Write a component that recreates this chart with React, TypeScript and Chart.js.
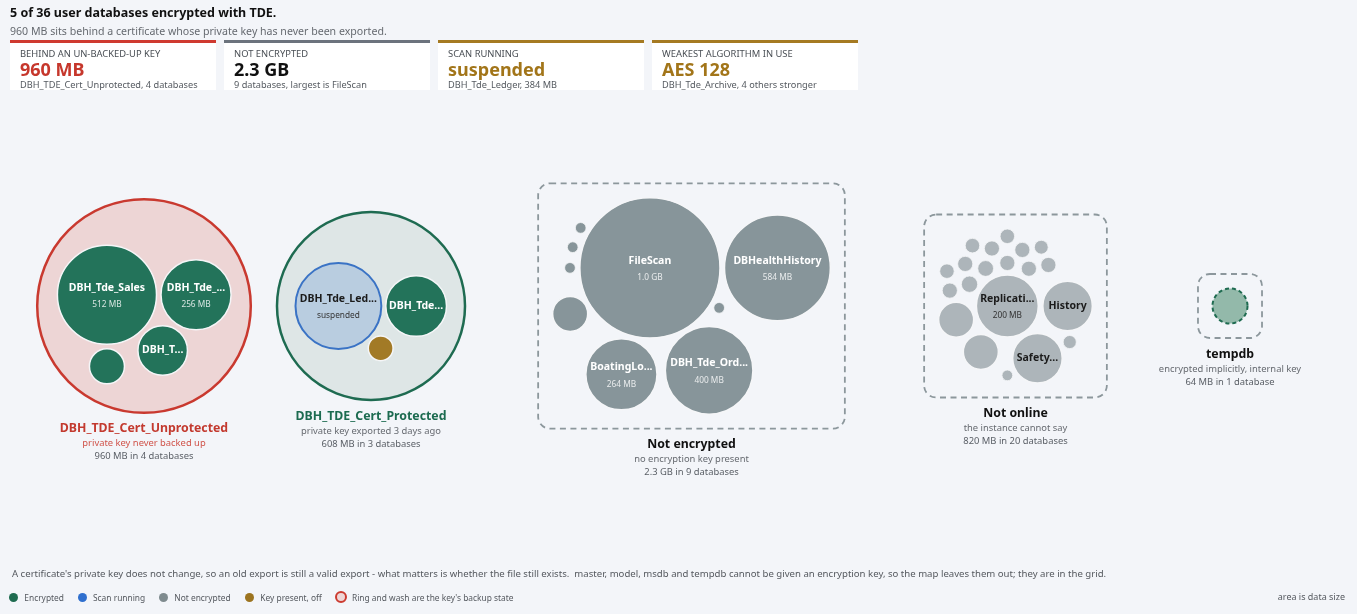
import React, { useEffect, useRef } from "react";
import { Chart, registerables } from "chart.js";

Chart.register(...registerables);

const W = 1357;
const H = 614;
const FONT = '"Noto Sans", "Open Sans", sans-serif';

// ---------------- data ----------------
const titleText = "5 of 36 user databases encrypted with TDE.";
const subtitleText = "960 MB sits behind a certificate whose private key has never been exported.";

const kpiLabels = ["BEHIND AN UN-BACKED-UP KEY", "NOT ENCRYPTED", "SCAN RUNNING", "WEAKEST ALGORITHM IN USE"];
const kpiValues = ["960 MB", "2.3 GB", "suspended", "AES 128"];
const kpiNotes = [
  "DBH_TDE_Cert_Unprotected, 4 databases",
  "9 databases, largest is FileScan",
  "DBH_Tde_Ledger, 384 MB",
  "DBH_Tde_Archive, 4 others stronger",
];

const groupTitles = ["DBH_TDE_Cert_Unprotected", "DBH_TDE_Cert_Protected", "Not encrypted", "Not online", "tempdb"];
const groupNotes = [
  "private key never backed up",
  "private key exported 3 days ago",
  "no encryption key present",
  "the instance cannot say",
  "encrypted implicitly, internal key",
];
const groupTotals = [
  "960 MB in 4 databases",
  "608 MB in 3 databases",
  "2.3 GB in 9 databases",
  "820 MB in 20 databases",
  "64 MB in 1 database",
];

const unprotectedNames = ["DBH_Tde_Sales", "DBH_Tde_Archive", "DBH_Tde_Hr", "DBH_Tde_Audit"];
const unprotectedMb = [512, 256, 128, 64];
const unprotectedState = ["enc", "enc", "enc", "enc"];

const protectedNames = ["DBH_Tde_Ledger", "DBH_Tde_Payroll", "DBH_Tde_Staging"];
const protectedMb = [384, 192, 32];
const protectedState = ["scan", "enc", "off"];
const protectedScan = ["suspended", "", ""];

const plainNames = ["FileScan", "DBHealthHistory", "DBH_Tde_Orders", "BoatingLogbook", "Scratch", "DBA_Util", "Jobs_Log", "Sandbox", "TestDb"];
const plainMb = [1024, 584, 400, 264, 64, 6, 6, 6, 6];

const offlineNames = [
  "ReplicationTest", "History", "SafetyReports", "Warehouse_Old", "Intranet",
  "CRM_Dev", "CRM_QA", "Billing_2019", "Billing_2020", "HR_Archive",
  "Survey", "Kiosk", "Wiki", "Tickets", "Assets",
  "Fleet", "Events", "Maps", "Notes", "Scratch2",
];
const offlineMb = [200, 128, 128, 64, 64, 14, 13, 12, 12, 12, 12, 12, 12, 12, 11, 11, 11, 10, 9, 6];

const tempdbNames = ["tempdb"];
const tempdbMb = [64];

const legendLabels = ["Encrypted", "Scan running", "Not encrypted", "Key present, off", "Ring and wash are the key's backup state"];
const footnoteText =
  "A certificate's private key does not change, so an old export is still a valid export - what matters is whether the file still exists.\u00a0 master, model, msdb and tempdb cannot be given an encryption key, so the map leaves them out; they are in the grid.";
const scaleNote = "area is data size";

// ---------------- styling / layout constants ----------------
const K = 2.19; // px of radius per sqrt(MB)
const GAP = 4.5;
const STEP = 15;
const RING_PAD = 18.5;
const BOX_PAD = 14.5;
const GROUP_CX = [144, 371, 691.5, 1015.5, 1230];
const CY = 306;
const LEGEND_X = [13.3, 82, 163.3, 249.3, 341];

const FILL: Record<string, string> = {
  enc: "#23735a",
  scan: "#b9cde0",
  off: "#a27a26",
  plain: "#87959a",
  offline: "#adb5ba",
  temp: "#93b9aa",
};
const RING_FILL = ["#edd5d5", "#dee6e6"];
const RING_LINE = ["#c9392f", "#1e6b51"];
const TITLE_COLOR = ["#c33a2f", "#1c6b50", "#111111", "#111111", "#111111"];
const NOTE_COLOR = ["#d0534a", "#666a70", "#666a70", "#666a70", "#666a70"];
const KPI_BAR = ["#cf3a30", "#6c737d", "#a57a22", "#a57a22"];
const KPI_VALUE = ["#c6372c", "#111111", "#a27519", "#a27519"];
const LEGEND_DOT = ["#1e6b50", "#2f6fce", "#7f8b8f", "#9c7420", "#efd6d6"];

const groups = [
  { names: unprotectedNames, mb: unprotectedMb, states: unprotectedState, notes: [] as string[], frame: "ring" },
  { names: protectedNames, mb: protectedMb, states: protectedState, notes: protectedScan, frame: "ring" },
  { names: plainNames, mb: plainMb, states: plainMb.map(() => "plain"), notes: [] as string[], frame: "box" },
  { names: offlineNames, mb: offlineMb, states: offlineMb.map(() => "offline"), notes: [] as string[], frame: "box" },
  { names: tempdbNames, mb: tempdbMb, states: ["temp"], notes: [] as string[], frame: "box" },
];

// ---------------- layout helpers ----------------
type C = { x: number; y: number; r: number };

function packAround(radii: number[]): C[] {
  const out: C[] = [];
  radii.forEach((r, i) => {
    if (i === 0) {
      out.push({ x: 0, y: 0, r });
      return;
    }
    const c0 = out[0];
    for (let d = c0.r + r + GAP; d < 3000; d += 1.5) {
      for (let a = 0; a < 360; a += STEP) {
        const t = (a * Math.PI) / 180;
        const x = d * Math.cos(t);
        const y = d * Math.sin(t);
        if (out.every((o) => Math.hypot(o.x - x, o.y - y) >= o.r + r + GAP - 1e-6)) {
          out.push({ x, y, r });
          return;
        }
      }
    }
  });
  return out;
}

function basis2(a: C, b: C): C {
  const x21 = b.x - a.x, y21 = b.y - a.y, r21 = b.r - a.r;
  const l = Math.sqrt(x21 * x21 + y21 * y21);
  return { x: (a.x + b.x + (x21 / l) * r21) / 2, y: (a.y + b.y + (y21 / l) * r21) / 2, r: (l + a.r + b.r) / 2 };
}

function basis3(a: C, b: C, c: C): C {
  const x1 = a.x, y1 = a.y, r1 = a.r;
  const x2 = b.x, y2 = b.y, r2 = b.r;
  const x3 = c.x, y3 = c.y, r3 = c.r;
  const a2 = x1 - x2, a3 = x1 - x3, b2 = y1 - y2, b3 = y1 - y3;
  const c2 = r2 - r1, c3 = r3 - r1;
  const d1 = x1 * x1 + y1 * y1 - r1 * r1;
  const d2 = d1 - x2 * x2 - y2 * y2 + r2 * r2;
  const d3 = d1 - x3 * x3 - y3 * y3 + r3 * r3;
  const ab = a3 * b2 - a2 * b3;
  const xa = (b2 * d3 - b3 * d2) / (ab * 2) - x1;
  const xb = (b3 * c2 - b2 * c3) / ab;
  const ya = (a3 * d2 - a2 * d3) / (ab * 2) - y1;
  const yb = (a2 * c3 - a3 * c2) / ab;
  const A = xb * xb + yb * yb - 1;
  const B = 2 * (r1 + xa * xb + ya * yb);
  const Cc = xa * xa + ya * ya - r1 * r1;
  const r = -(Math.abs(A) > 1e-6 ? (B + Math.sqrt(B * B - 4 * A * Cc)) / (2 * A) : Cc / B);
  return { x: x1 + xa + xb * r, y: y1 + ya + yb * r, r };
}

function enclose(cs: C[]): C {
  let best: C | null = null;
  const ok = (e: C) =>
    e && isFinite(e.r) && isFinite(e.x) && isFinite(e.y) && e.r > 0 &&
    cs.every((c) => Math.hypot(c.x - e.x, c.y - e.y) + c.r <= e.r + 1e-3);
  const consider = (e: C) => {
    if (ok(e) && (!best || e.r < best.r)) best = e;
  };
  for (let i = 0; i < cs.length; i++) consider({ ...cs[i] });
  for (let i = 0; i < cs.length; i++)
    for (let j = i + 1; j < cs.length; j++) consider(basis2(cs[i], cs[j]));
  for (let i = 0; i < cs.length; i++)
    for (let j = i + 1; j < cs.length; j++)
      for (let k = j + 1; k < cs.length; k++) consider(basis3(cs[i], cs[j], cs[k]));
  return best as unknown as C;
}

function buildLayout() {
  const bubbles: any[] = [];
  const frames: any[] = [];
  groups.forEach((g, gi) => {
    const radii = g.mb.map((v) => K * Math.sqrt(v));
    const pts = packAround(radii);
    let ox = 0, oy = 0;
    if (g.frame === "ring") {
      const e = enclose(pts);
      ox = GROUP_CX[gi] - e.x;
      oy = CY - e.y;
      const R = e.r + RING_PAD;
      frames.push({ kind: "ring", gi, x: GROUP_CX[gi], y: CY, r: R, bottom: CY + R });
    } else {
      const x0 = Math.min(...pts.map((p) => p.x - p.r));
      const x1 = Math.max(...pts.map((p) => p.x + p.r));
      const y0 = Math.min(...pts.map((p) => p.y - p.r));
      const y1 = Math.max(...pts.map((p) => p.y + p.r));
      ox = GROUP_CX[gi] - (x0 + x1) / 2;
      oy = CY - (y0 + y1) / 2;
      const hw = (x1 - x0) / 2 + BOX_PAD;
      const hh = (y1 - y0) / 2 + BOX_PAD;
      frames.push({ kind: "box", gi, x0: GROUP_CX[gi] - hw, x1: GROUP_CX[gi] + hw, y0: CY - hh, y1: CY + hh, bottom: CY + hh });
    }
    pts.forEach((p, i) =>
      bubbles.push({ x: p.x + ox, y: p.y + oy, r: p.r, state: g.states[i], name: g.names[i], mb: g.mb[i], note: g.notes[i] || "", gi })
    );
  });
  return { bubbles, frames };
}

function fmtMb(mb: number) {
  return mb >= 1000 ? (mb / 1024).toFixed(1) + " GB" : mb + " MB";
}

function fitText(ctx: CanvasRenderingContext2D, s: string, max: number) {
  if (ctx.measureText(s).width <= max) return s;
  let t = s;
  while (t.length > 1 && ctx.measureText(t + "...").width > max) t = t.slice(0, -1);
  return t + "...";
}

function roundRectPath(ctx: CanvasRenderingContext2D, x0: number, y0: number, x1: number, y1: number, rad: number) {
  ctx.beginPath();
  ctx.moveTo(x0 + rad, y0);
  ctx.arcTo(x1, y0, x1, y1, rad);
  ctx.arcTo(x1, y1, x0, y1, rad);
  ctx.arcTo(x0, y1, x0, y0, rad);
  ctx.arcTo(x0, y0, x1, y0, rad);
  ctx.closePath();
}

export default function App() {
  const canvasRef = useRef<HTMLCanvasElement | null>(null);

  useEffect(() => {
    const canvas = canvasRef.current;
    if (!canvas) return;
    const { bubbles, frames } = buildLayout();
    const mainB = bubbles.filter((b) => b.state !== "temp");
    const tempB = bubbles.filter((b) => b.state === "temp");
    const ringF = frames.filter((f) => f.kind === "ring");

    const dashPlugin = {
      id: "dashBorders",
      beforeDatasetDraw(chart: any, args: any) {
        const ds = chart.data.datasets[args.index];
        if (ds.dashed) chart.ctx.setLineDash(ds.dashed);
      },
      afterDatasetDraw(chart: any) {
        chart.ctx.setLineDash([]);
      },
    };

    const framePlugin = {
      id: "frames",
      beforeDatasetsDraw(chart: any) {
        const ctx = chart.ctx;
        const xs = chart.scales.x, ys = chart.scales.y;
        ctx.save();
        ctx.setLineDash([6, 4.5]);
        ctx.lineWidth = 1.8;
        ctx.strokeStyle = "#8c979c";
        frames.filter((f) => f.kind === "box").forEach((f) => {
          roundRectPath(ctx, xs.getPixelForValue(f.x0), ys.getPixelForValue(f.y0), xs.getPixelForValue(f.x1), ys.getPixelForValue(f.y1), 12);
          ctx.stroke();
        });
        ctx.restore();
      },
    };

    const labelPlugin = {
      id: "labels",
      afterDatasetsDraw(chart: any) {
        const ctx = chart.ctx as CanvasRenderingContext2D;
        const xs = chart.scales.x, ys = chart.scales.y;
        const meta = chart.getDatasetMeta(0);
        ctx.save();
        ctx.textAlign = "center";
        ctx.textBaseline = "middle";
        meta.data.forEach((el: any, i: number) => {
          const b = mainB[i];
          if (b.r < 20) return;
          const light = b.state === "scan" || b.state === "offline";
          ctx.font = `bold 10.5px ${FONT}`;
          const name = fitText(ctx, b.name, 2 * b.r - 6);
          const sub = b.note || (b.r >= 30.6 ? fmtMb(b.mb) : "");
          ctx.fillStyle = light ? "#1b1b1b" : "#ffffff";
          if (sub) {
            ctx.fillText(name, el.x, el.y - 7);
            ctx.font = `8.3px ${FONT}`;
            ctx.fillStyle = light ? "#333333" : "rgba(255,255,255,0.82)";
            ctx.fillText(sub, el.x, el.y + 10);
          } else {
            ctx.fillText(name, el.x, el.y);
          }
        });
        frames.forEach((f) => {
          const cx = xs.getPixelForValue(GROUP_CX[f.gi]);
          const by = ys.getPixelForValue(f.bottom);
          ctx.font = `bold 12.3px ${FONT}`;
          ctx.fillStyle = TITLE_COLOR[f.gi];
          ctx.fillText(groupTitles[f.gi], cx, by + 16);
          ctx.font = `9.4px ${FONT}`;
          ctx.fillStyle = NOTE_COLOR[f.gi];
          ctx.fillText(groupNotes[f.gi], cx, by + 31);
          ctx.fillStyle = "#5a5f66";
          ctx.fillText(groupTotals[f.gi], cx, by + 44);
        });
        ctx.restore();
      },
    };

    const chart = new Chart(canvas, {
      type: "bubble",
      data: {
        datasets: [
          {
            label: "databases",
            data: mainB.map((b) => ({ x: b.x, y: b.y, r: b.r })),
            backgroundColor: mainB.map((b) => FILL[b.state]),
            borderColor: mainB.map((b) => (b.state === "scan" ? "#3a73c5" : "#f5f6f8")),
            borderWidth: mainB.map((b) => (b.state === "scan" ? 2 : b.r < 10 ? 0.8 : 1.5)),
            order: 1,
          } as any,
          {
            label: "tempdb",
            data: tempB.map((b) => ({ x: b.x, y: b.y, r: b.r })),
            backgroundColor: FILL.temp,
            borderColor: "#1e6b50",
            borderWidth: 2,
            dashed: [4, 3],
            order: 2,
          } as any,
          {
            label: "certificates",
            data: ringF.map((f) => ({ x: f.x, y: f.y, r: f.r })),
            backgroundColor: ringF.map((f) => RING_FILL[f.gi]),
            borderColor: ringF.map((f) => RING_LINE[f.gi]),
            borderWidth: 2.5,
            order: 3,
          } as any,
        ],
      },
      options: {
        animation: false,
        responsive: false,
        maintainAspectRatio: false,
        events: [],
        layout: { padding: 0, autoPadding: false },
        plugins: { legend: { display: false }, tooltip: { enabled: false } },
        scales: {
          x: { type: "linear", min: 0, max: W, display: false },
          y: { type: "linear", min: 0, max: H, reverse: true, display: false },
        },
      } as any,
      plugins: [dashPlugin, framePlugin, labelPlugin],
    });
    return () => chart.destroy();
  }, []);

  return (
    <div style={{ position: "fixed", left: 0, top: 0, width: W, height: H, background: "#f3f5f9", fontFamily: FONT, overflow: "hidden" }}>
      <canvas ref={canvasRef} width={W} height={H} style={{ position: "absolute", left: 0, top: 0, width: W, height: H }} />
      <div style={{ position: "absolute", left: 10, top: 4, fontSize: 12.5, fontWeight: 700, color: "#111", lineHeight: "18px", whiteSpace: "nowrap" }}>
        {titleText}
      </div>
      <div style={{ position: "absolute", left: 10, top: 23, fontSize: 10.6, color: "#666a70", lineHeight: "16px", whiteSpace: "nowrap" }}>
        {subtitleText}
      </div>
      {kpiLabels.map((lab, i) => (
        <div key={lab} style={{ position: "absolute", left: 10 + i * 214, top: 40, width: 206, height: 50 }}>
          <div style={{ height: 3, background: KPI_BAR[i] }} />
          <div style={{ position: "relative", height: 47, background: "#ffffff", overflow: "hidden" }}>
            <div style={{ position: "absolute", left: 10, top: 5, fontSize: 9.4, lineHeight: "12px", color: "#4a4f55", whiteSpace: "nowrap" }}>{lab}</div>
            <div style={{ position: "absolute", left: 10, top: 16, fontSize: 18, fontWeight: 700, lineHeight: "21px", color: KPI_VALUE[i], whiteSpace: "nowrap" }}>
              {kpiValues[i]}
            </div>
            <div style={{ position: "absolute", left: 10, top: 35.5, fontSize: 9.2, lineHeight: "12px", color: "#555a60", whiteSpace: "nowrap" }}>{kpiNotes[i]}</div>
          </div>
        </div>
      ))}
      <div style={{ position: "absolute", left: 12, top: 567, fontSize: 9.6, lineHeight: "14px", color: "#55595f", whiteSpace: "nowrap" }}>{footnoteText}</div>
      {legendLabels.map((lab, i) => (
        <div key={lab} style={{ position: "absolute", left: LEGEND_X[i] - 6, top: 590, height: 14, display: "flex", alignItems: "center", gap: 5, fontSize: 8.4, color: "#55595f", whiteSpace: "nowrap" }}>
          <span
            style={{
              display: "inline-block",
              boxSizing: "border-box",
              width: i === 4 ? 12 : 9,
              height: i === 4 ? 12 : 9,
              marginLeft: i === 4 ? 0 : 1.5,
              marginRight: i === 4 ? 0 : 1.5,
              borderRadius: "50%",
              background: LEGEND_DOT[i],
              border: i === 4 ? "2px solid #cc3b30" : "none",
            }}
          />
          <span>{lab}</span>
        </div>
      ))}
      <div style={{ position: "absolute", right: 12, top: 590, fontSize: 9, lineHeight: "14px", color: "#55595f", whiteSpace: "nowrap" }}>{scaleNote}</div>
    </div>
  );
}
